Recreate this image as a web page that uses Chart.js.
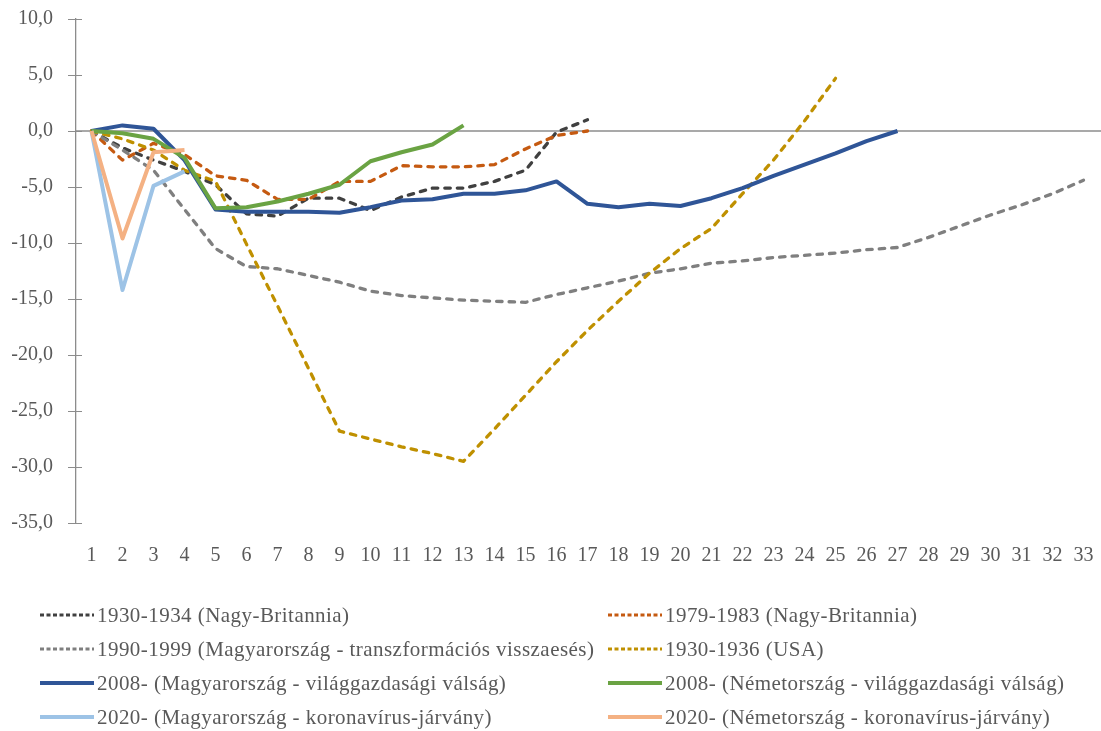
<!DOCTYPE html>
<html>
<head>
<meta charset="utf-8">
<script src="https://cdn.jsdelivr.net/npm/chart.js@4.4.1/dist/chart.umd.min.js"></script>
<style>
html,body{margin:0;padding:0;background:#fff;}
#wrap{position:relative;width:1101px;height:731px;overflow:hidden;}
#c{position:absolute;left:0;top:0;}
#legend{position:absolute;left:0;top:0;width:1101px;height:731px;font-family:"Liberation Serif",serif;font-size:21px;letter-spacing:0.45px;color:#595959;}
.item{position:absolute;display:flex;align-items:center;white-space:nowrap;height:30px;}
.item svg{margin-right:3px;}
</style>
</head>
<body>
<div id="wrap">
<canvas id="c" width="1101" height="731"></canvas>
<div id="legend"></div>
</div>
<script>
// ---- data ----
const xLabels = ['1','2','3','4','5','6','7','8','9','10','11','12','13','14','15','16','17','18','19','20','21','22','23','24','25','26','27','28','29','30','31','32','33'];
const seriesNames = [
  '1930-1934 (Nagy-Britannia)',
  '1979-1983 (Nagy-Britannia)',
  '1990-1999 (Magyarország - transzformációs visszaesés)',
  '1930-1936 (USA)',
  '2008- (Magyarország - világgazdasági válság)',
  '2008- (Németország - világgazdasági válság)',
  '2020- (Magyarország - koronavírus-járvány)',
  '2020- (Németország - koronavírus-járvány)'
];
const uk1930 = [0, -1.5, -2.6, -3.6, -4.8, -7.4, -7.6, -6.0, -6.0, -7.1, -5.9, -5.1, -5.1, -4.5, -3.5, -0.1, 1.0];
const uk1979 = [0, -2.6, -1.1, -2.1, -4.0, -4.4, -6.1, -6.1, -4.5, -4.5, -3.1, -3.2, -3.2, -3.0, -1.6, -0.4, 0.0];
const hu1990 = [0, -1.7, -3.5, -7.0, -10.5, -12.1, -12.3, -12.9, -13.5, -14.3, -14.7, -14.9, -15.1, -15.2, -15.3, -14.6, -14.0, -13.4, -12.7, -12.3, -11.8, -11.6, -11.3, -11.1, -10.9, -10.6, -10.4, -9.5, -8.5, -7.5, -6.6, -5.6, -4.4];
const usa1930 = [0, -0.7, -1.7, -3.5, -4.5, -10.1, -15.6, -21.2, -26.8, -27.5, -28.2, -28.8, -29.5, -26.6, -23.6, -20.6, -17.8, -15.2, -12.7, -10.5, -8.7, -5.6, -2.6, 0.9, 4.7];
const hu2008 = [0, 0.5, 0.2, -2.6, -7.0, -7.2, -7.2, -7.2, -7.3, -6.8, -6.2, -6.1, -5.6, -5.6, -5.3, -4.5, -6.5, -6.8, -6.5, -6.7, -6.0, -5.1, -4.0, -3.0, -2.0, -0.9, 0.0];
const de2008 = [0, -0.2, -0.7, -2.4, -6.9, -6.8, -6.3, -5.6, -4.8, -2.7, -1.9, -1.2, 0.5];
const hu2020 = [0, -14.2, -4.9, -3.6];
const de2020 = [0, -9.6, -1.9, -1.7];
const yMin = -35, yMax = 10, yStep = 5;

// ---- styles ----
const seriesData = [uk1930, uk1979, hu1990, usa1930, hu2008, de2008, hu2020, de2020];
const colors = ['#404040', '#C55A11', '#7F7F7F', '#BF9000', '#2F5597', '#6AA343', '#9DC3E6', '#F4B183'];
const dashed = [true, true, true, true, false, false, false, false];
const FONT = 'Liberation Serif';
const TXT = '#595959';
const AXIS = '#8C8C8C';

const datasets = seriesData.map((d, i) => ({
  label: seriesNames[i],
  data: d,
  borderColor: colors[i],
  backgroundColor: colors[i],
  borderWidth: dashed[i] ? 3.3 : 4,
  borderDash: dashed[i] ? [5.5, 7] : [],
  borderCapStyle: dashed[i] ? 'round' : 'butt',
  borderJoinStyle: 'round',
  pointRadius: 0,
  pointHoverRadius: 0,
  fill: false,
  tension: 0,
  order: seriesData.length - i
}));

const axisExtras = {
  id: 'axisExtras',
  beforeDatasetsDraw(chart) {
    const {ctx, chartArea, scales} = chart;
    const y0 = scales.y.getPixelForValue(0);
    ctx.save();
    ctx.strokeStyle = AXIS;
    ctx.lineWidth = 1.3;
    ctx.beginPath();
    ctx.moveTo(chartArea.left, y0);
    ctx.lineTo(chartArea.right + 2, y0);
    ctx.stroke();
    // inner half of the cross tick marks
    ctx.lineWidth = 1;
    scales.y.ticks.forEach(t => {
      const yy = Math.round(scales.y.getPixelForValue(t.value)) + 0.5;
      ctx.beginPath();
      ctx.moveTo(chartArea.left, yy);
      ctx.lineTo(chartArea.left + 6, yy);
      ctx.stroke();
    });
    ctx.restore();
  }
};

new Chart(document.getElementById('c'), {
  type: 'line',
  data: { labels: xLabels, datasets },
  options: {
    responsive: false,
    animation: false,
    events: [],
    layout: { padding: { top: 19, right: 2, bottom: 156, left: 0 } },
    plugins: { legend: { display: false }, tooltip: { enabled: false } },
    scales: {
      x: {
        type: 'category',
        offset: true,
        grid: { display: false, drawTicks: false },
        border: { display: false },
        ticks: { color: TXT, font: { family: FONT, size: 20 }, padding: 21, maxRotation: 0, autoSkip: false },
        afterFit(s) { s.height = 52; s.paddingLeft = 0; s.paddingRight = 0; }
      },
      y: {
        min: yMin, max: yMax,
        ticks: { stepSize: yStep, color: TXT, font: { family: FONT, size: 20 }, padding: 15,
          callback: v => v.toFixed(1).replace('.', ',') },
        grid: { display: true, drawOnChartArea: false, drawTicks: true, tickLength: 8, color: AXIS, lineWidth: 1 },
        border: { display: true, color: AXIS, width: 1.3 },
        afterFit(s) { s.width = 76; s.paddingTop = 0; s.paddingBottom = 0; }
      }
    }
  },
  plugins: [axisExtras]
});

// ---- HTML legend (2 columns x 4 rows) ----
const legend = document.getElementById('legend');
const colX = [40, 608];
const rowY = [615, 649, 683, 717];
seriesNames.forEach((name, i) => {
  const col = i % 2, row = Math.floor(i / 2);
  const div = document.createElement('div');
  div.className = 'item';
  div.style.left = colX[col] + 'px';
  div.style.top = (rowY[row] - 15) + 'px';
  const w = dashed[i] ? 3 : 4;
  const dash = dashed[i] ? ' stroke-dasharray="4 2.5"' : '';
  div.innerHTML = '<svg width="54" height="8"><line x1="0" y1="4" x2="54" y2="4" stroke="' + colors[i] +
    '" stroke-width="' + w + '"' + dash + '/></svg><span></span>';
  div.querySelector('span').textContent = name;
  legend.appendChild(div);
});
</script>
</body>
</html>
